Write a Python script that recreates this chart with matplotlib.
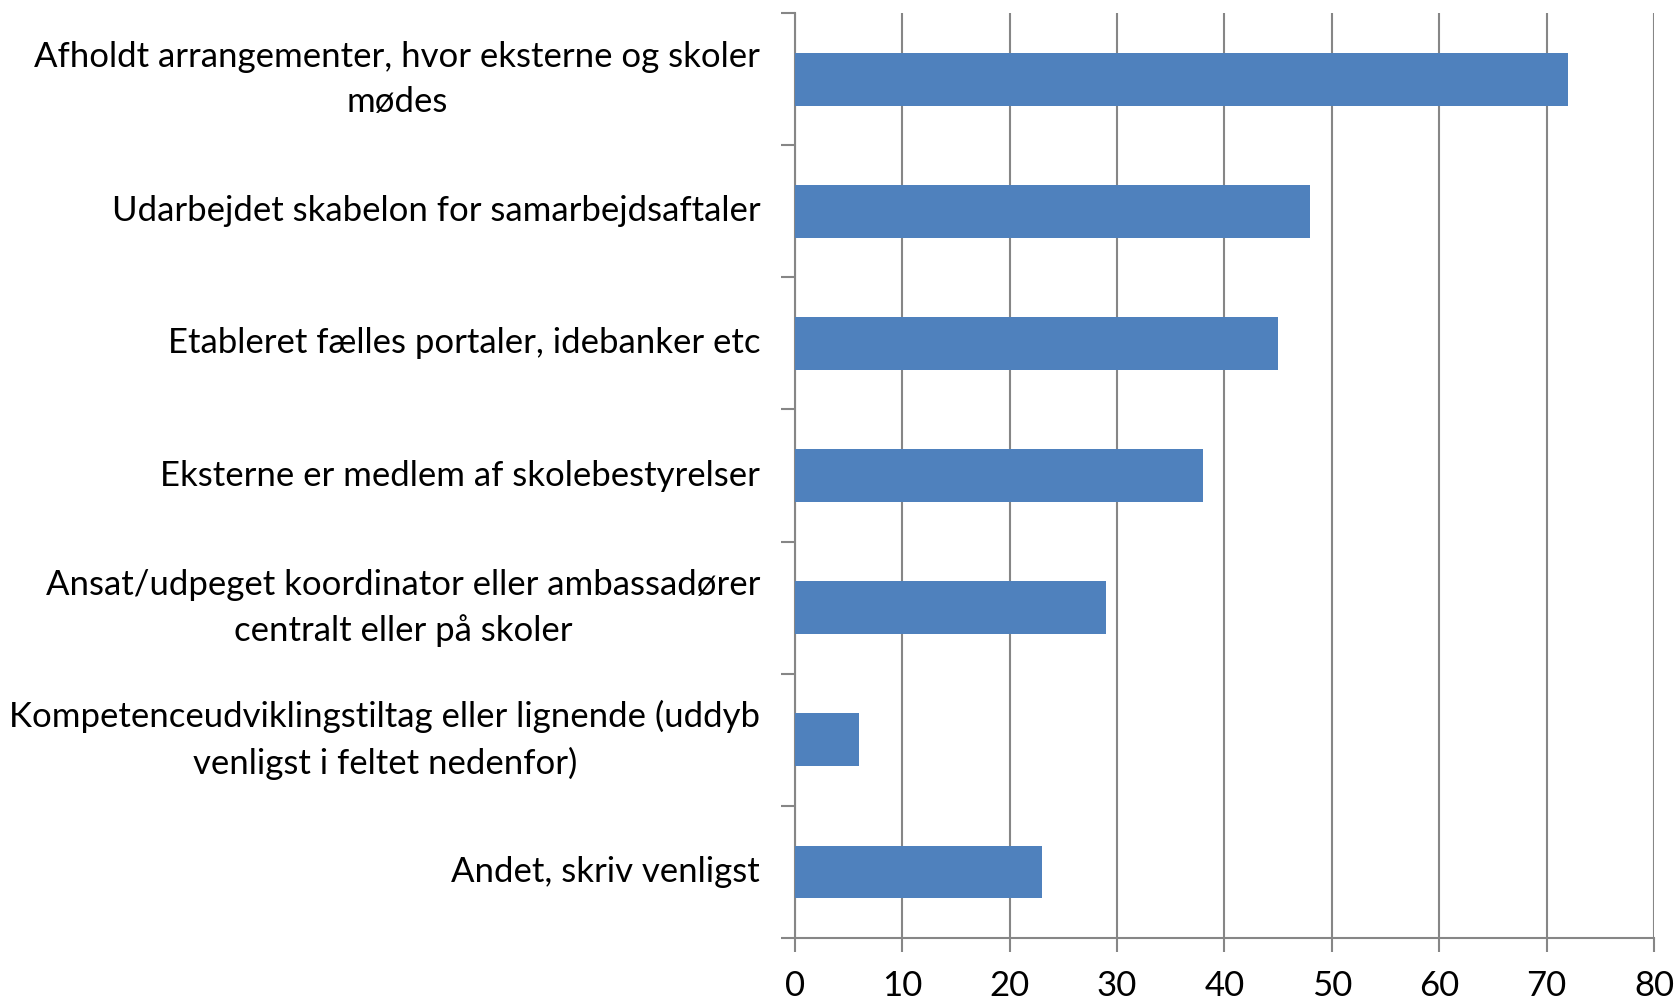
import numpy as np
import matplotlib.pyplot as plt

categories = [
    "Afholdt arrangementer, hvor eksterne og skoler\nmødes",
    "Udarbejdet skabelon for samarbejdsaftaler",
    "Etableret fælles portaler, idebanker etc",
    "Eksterne er medlem af skolebestyrelser",
    "Ansat/udpeget koordinator eller ambassadører\ncentralt eller på skoler",
    "Kompetenceudviklingstiltag eller lignende (uddyb\nvenligst i feltet nedenfor)",
    "Andet, skriv venligst",
]
values = [72, 48, 45, 38, 29, 6, 23]
x_ticks = [0, 10, 20, 30, 40, 50, 60, 70, 80]

plt.rcParams['font.family'] = ['Lato', 'DejaVu Sans']

fig = plt.figure(figsize=(16.76, 10.01), dpi=100)
ax = fig.add_axes([0.4743, 0.0629, 0.5126, 0.9241])

y = np.arange(len(categories))
ax.barh(y, values, height=0.4, color='#4F81BD', zorder=3)

ax.set_xlim(0, 80)
ax.set_ylim(len(categories) - 0.5, -0.5)
ax.set_xticks(x_ticks)
ax.xaxis.grid(True, color='#868686', linewidth=1.5, zorder=0)

ax.set_yticks(y)
ax.set_yticklabels(categories, fontsize=25, ha='right', va='center',
                   multialignment='center', linespacing=1.5)
ax.set_yticks(np.arange(-0.5, len(categories)), minor=True)
ax.tick_params(axis='y', which='major', length=0, pad=25)
ax.tick_params(axis='y', which='minor', length=10, width=1.5, color='#868686')
ax.tick_params(axis='x', length=10, width=1.5, color='#868686', labelsize=25, pad=13)

for s in ['top', 'right']:
    ax.spines[s].set_visible(False)
for s in ['left', 'bottom']:
    ax.spines[s].set_color('#868686')
    ax.spines[s].set_linewidth(1.5)

fig.savefig('out.png', dpi=100)
